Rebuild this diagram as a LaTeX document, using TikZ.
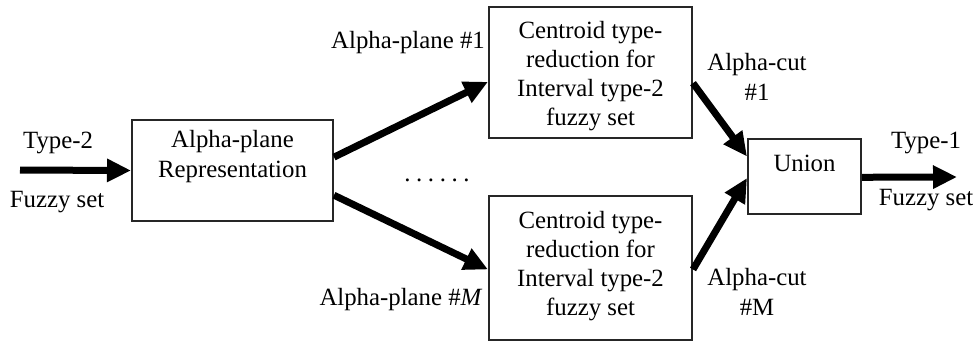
\documentclass[tikz,border=0pt]{standalone}
\usepackage{fontspec}
\setmainfont{Liberation Serif}
\usetikzlibrary{arrows.meta,calc}
\begin{document}
\begin{tikzpicture}[x=0.5pt,y=-0.5pt,
  box/.style={draw=black!85,line width=1pt,inner sep=0pt,align=center,
    font=\fontsize{12.4}{14.6}\selectfont},
  lbl/.style={font=\fontsize{12.4}{15}\selectfont,inner sep=0pt,align=center},
  flow/.style={line width=3.5pt,-{Triangle[length=12pt,width=11pt]}}]
\useasboundingbox (0,0) rectangle (977,345);

% processing blocks
\node[box,minimum width=100.5pt,minimum height=50.5pt] (rep) at (232.5,170.5) {};
\node[lbl] (reptext) at (232.5,157) {Alpha-plane\\Representation};
\node[box,minimum width=101.5pt,minimum height=65.5pt] (top) at (590.5,72.5) {};
\node[lbl,font=\fontsize{12.4}{14.6}\selectfont] (toptext) at (590.5,76)
  {Centroid type-\\reduction for\\Interval type-2\\fuzzy set};
\node[box,minimum width=101.5pt,minimum height=72pt] (bot) at (590.5,268) {};
\node[lbl,font=\fontsize{12.4}{14.6}\selectfont] (bottext) at (590.5,266)
  {Centroid type-\\reduction for\\Interval type-2\\fuzzy set};
\node[box,minimum width=56.5pt,minimum height=37.5pt] (union) at (804.5,176.5) {};
\node[lbl] (uniontext) at (804.5,163) {Union};

% input and output ends
\coordinate (in) at (20,170);
\coordinate (out) at (957,177);

% connectors
\draw[flow] (in) -- (rep.west);
\draw[flow] ($(rep.north east)!0.37!(rep.south east)$) -- ($(top.north west)!0.57!(top.south west)$);
\draw[flow] ($(rep.north east)!0.74!(rep.south east)$) -- ($(bot.north west)!0.51!(bot.south west)$);
\draw[flow] ($(top.north east)!0.58!(top.south east)$) -- ($(union.north west)!0.24!(union.south west)$);
\draw[flow] ($(bot.north east)!0.51!(bot.south east)$) -- ($(union.north west)!0.52!(union.south west)$);
\draw[flow] ($(union.north east)!0.51!(union.south east)$) -- (out);

% labels
\node[lbl] (t2) at (58,143) {Type-2};
\node[lbl] (fs2) at (57,202) {Fuzzy set};
\node[lbl] (ap1) at (408,43) {Alpha-plane \#1};
\node[lbl] (apm) at (401,300) {Alpha-plane \#\textit{M}};
\node[lbl,anchor=base] (dots) at (437,181)
  {.\hspace{2.8pt}.\hspace{2.8pt}.\hspace{2.8pt}.\hspace{2.8pt}.\hspace{2.8pt}.};
\node[lbl] (ac1) at (757,77) {Alpha-cut\\\#1};
\node[lbl] (acm) at (757,292) {Alpha-cut\\\#M};
\node[lbl] (t1) at (926,143) {Type-1};
\node[lbl] (fs1) at (926,200) {Fuzzy set};
\end{tikzpicture}
\end{document}
